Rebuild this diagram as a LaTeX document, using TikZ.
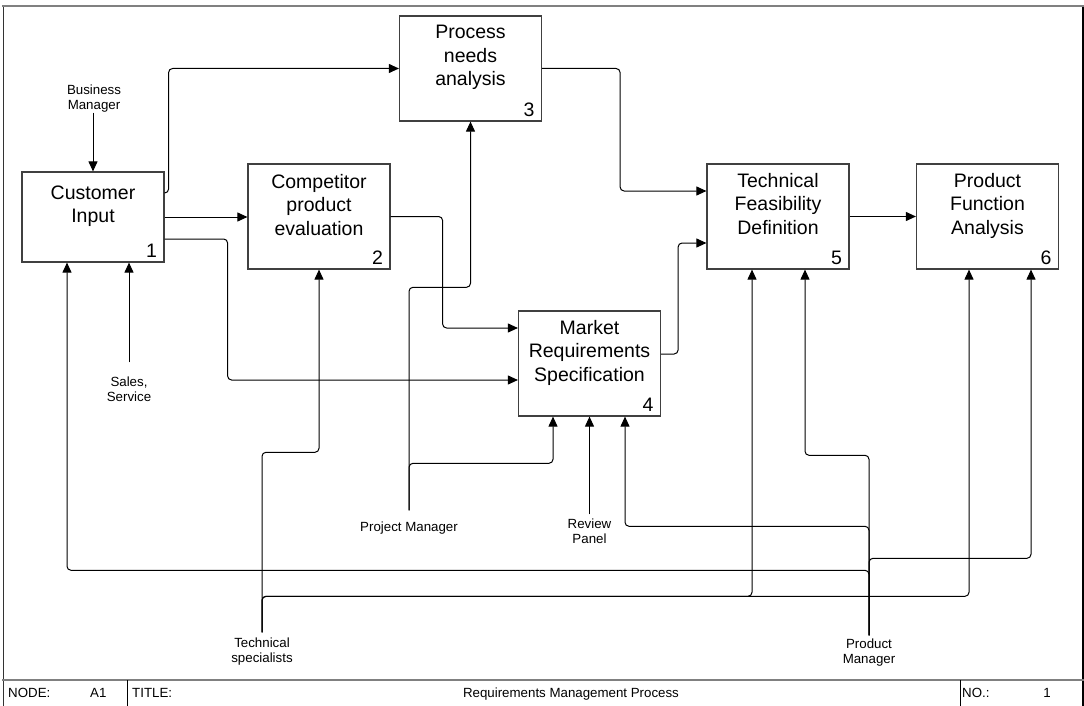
\documentclass[tikz,border=0pt]{standalone}
\usepackage{fontspec}
\setmainfont{Liberation Sans}
\usetikzlibrary{arrows.meta}
\begin{document}
\begin{tikzpicture}[x=1pt,y=-1pt,
  box/.style={draw=black!75, line width=1.2pt, rectangle, inner sep=0pt, minimum width=142pt, minimum height=105pt},
  boxtext/.style={anchor=north, inner sep=0pt, align=center, font=\fontsize{19.5}{23.3}\selectfont},
  boxnum/.style={anchor=base east, inner sep=0pt, font=\fontsize{19.5}{23.3}\selectfont},
  lbl/.style={anchor=north, inner sep=0pt, align=center, font=\fontsize{13.3}{15.5}\selectfont},
  foot/.style={anchor=base west, inner sep=0pt, font=\fontsize{13.3}{15.5}\selectfont},
  conn/.style={draw=black, line width=1pt, rounded corners=4pt, -{Triangle[length=10pt,width=9pt]}}
]
\useasboundingbox (0,0) rectangle (1084,706);
% frame
\draw[black!80, line width=1pt] (3,706) -- (3,6);
\draw[black, line width=1.2pt] (1083,6) -- (1083,706);
\draw[black!50, line width=2pt] (2,6) -- (1084,6);
\draw[black!50, line width=2pt] (2,680) -- (1084,680);
\draw[black, line width=1pt] (127,680) -- (127,706);
\draw[black, line width=1pt] (960,680) -- (960,706);
\node[foot] (fnode) at (8,697) {NODE:};
\node[foot] (fa1) at (90,697) {A1};
\node[foot] (ftitle) at (132,697) {TITLE:};
\node[foot, anchor=base] (fname) at (571,697) {Requirements Management Process};
\node[foot] (fno) at (962,697) {NO.:};
\node[foot, anchor=base] (fnum) at (1047,697) {1};

% boxes
\node[box, minimum height=90pt] (b1) at (93,217) {};
\node[box] (b2) at (319,216.5) {};
\node[box] (b3) at (470.5,68.5) {};
\node[box] (b4) at (589.5,363.5) {};
\node[box] (b5) at (778,216.5) {};
\node[box] (b6) at (987.5,216.5) {};

\node[boxtext] (t1) at ([yshift=-13.8pt]b1.north) {Customer\\Input};
\node[boxtext] (t2) at ([yshift=-10.8pt]b2.north) {Competitor\\product\\evaluation};
\node[boxtext] (t3) at ([yshift=-9.8pt]b3.north) {Process\\needs\\analysis};
\node[boxtext] (t4) at ([yshift=-9.8pt]b4.north) {Market\\Requirements\\Specification};
\node[boxtext] (t5) at ([yshift=-9.8pt]b5.north) {Technical\\Feasibility\\Definition};
\node[boxtext] (t6) at ([yshift=-9.8pt]b6.north) {Product\\Function\\Analysis};

\node[boxnum] (n1) at ([xshift=-7.5pt,yshift=5.5pt]b1.south east) {1};
\node[boxnum] (n2) at ([xshift=-7.5pt,yshift=5.5pt]b2.south east) {2};
\node[boxnum] (n3) at ([xshift=-7.5pt,yshift=5.5pt]b3.south east) {3};
\node[boxnum] (n4) at ([xshift=-7.5pt,yshift=5.5pt]b4.south east) {4};
\node[boxnum] (n5) at ([xshift=-7.5pt,yshift=5.5pt]b5.south east) {5};
\node[boxnum] (n6) at ([xshift=-7.5pt,yshift=5.5pt]b6.south east) {6};

% labels
\node[lbl] (bm) at (94,84.3) {Business\\Manager};
\node[lbl] (ss) at (129,376.3) {Sales,\\Service};
\node[lbl] (pm) at (409,521.3) {Project Manager};
\node[lbl] (rp) at (589.5,518.3) {Review\\Panel};
\node[lbl] (ts) at (262,637.3) {Technical\\specialists};
\node[lbl] (pdm) at (869,638.3) {Product\\Manager};

% connectors between boxes
\draw[conn] ([yshift=24pt]b1.east) -- ++(4,0) |- (b3.west);
\draw[conn] (b1.east) -- (b1.east -| b2.west);
\draw[conn] ([yshift=-22pt]b1.east) -- ++(63,0) |- ([yshift=-16.5pt]b4.west);
\draw[conn] (b2.east) -- ++(52,0) |- ([yshift=35.5pt]b4.west);
\draw[conn] (b3.east) -- ++(78,0) |- ([yshift=25.5pt]b5.west);
\draw[conn] ([yshift=9.5pt]b4.east) -- ++(17,0) |- ([yshift=-26.5pt]b5.west);
\draw[conn] (b5.east) -- (b5.east -| b6.west);

% mechanisms / controls
\draw[conn] (b1.north |- bm.south) -- (b1.north);
\draw[conn] ([yshift=14pt]ss.north) -- (ss.north |- b1.south);
\draw[conn] ([yshift=4pt]rp.north) -- (rp.north |- b4.south);

\draw[conn] ([yshift=11pt]pm.north) -- ++(0,-223) -| (b3.south);
\draw[conn] ([yshift=11pt]pm.north) -- ++(0,-47) -| ([xshift=-36.5pt]b4.south);

\draw[conn] ([yshift=5pt]ts.north) -- ++(0,-180) -| (b2.south);
\draw[conn] ([yshift=5pt]ts.north) -- ++(0,-36) -| ([xshift=-26pt]b5.south);
\draw[conn] ([yshift=5pt]ts.north) -- ++(0,-36) -| ([xshift=-18.5pt]b6.south);

\draw[conn] ([yshift=3pt]pdm.north) -- ++(0,-65) -| ([xshift=-26pt]b1.south);
\draw[conn] ([yshift=3pt]pdm.north) -- ++(0,-109) -| ([xshift=35.5pt]b4.south);
\draw[conn] ([yshift=3pt]pdm.north) -- ++(0,-180) -| ([xshift=27pt]b5.south);
\draw[conn] ([yshift=3pt]pdm.north) -- ++(0,-77) -| ([xshift=43.5pt]b6.south);
\end{tikzpicture}
\end{document}
